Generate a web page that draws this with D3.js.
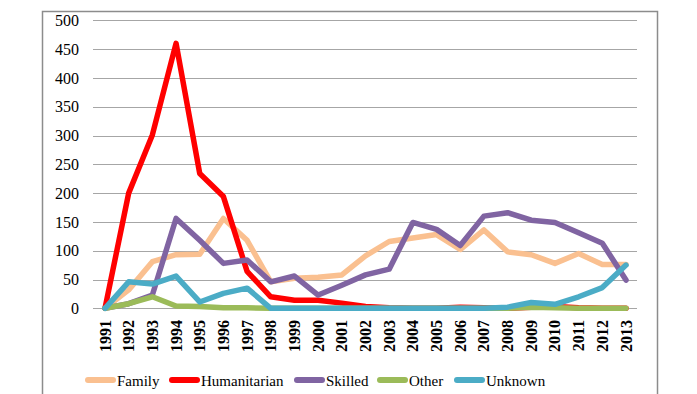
<!DOCTYPE html>
<html>
<head>
<meta charset="utf-8">
<script src="https://cdn.jsdelivr.net/npm/d3@7"></script>
<style>
  body { margin: 0; background: #fff; }
  text { font-family: "Liberation Serif", serif; fill: #000; }
</style>
</head>
<body>
<script>
const width = 697;
const height = 394;

const years = d3.range(1991, 2014).map(String);
const yTicks = [0, 50, 100, 150, 200, 250, 300, 350, 400, 450, 500];

const family       = [0, 32, 81, 93, 94, 156, 118, 46, 52, 54, 58, 91, 116, 122, 128, 102, 136, 98, 93, 78, 95, 76, 76];
const humanitarian = [0, 200, 301, 460, 234, 194, 64, 20, 14, 14, 9, 3, 1, 0, 0, 2, 1, 0, 2, 3, 1, 0, 0];
const skilled      = [0, 8, 23, 156, 118, 78, 84, 46, 56, 23, 40, 58, 68, 149, 137, 109, 160, 166, 153, 149, 131, 113, 49];
const other        = [0, 8, 20, 4, 3, 1, 1, 0, 0, 0, 0, 0, 0, 0, 0, 0, 0, 0, 2, 1, 0, 0, 0];
const unknown      = [0, 46, 42, 56, 11, 26, 35, 0, 0, 0, 0, 0, 0, 0, 0, 0, 0, 2, 10, 7, 20, 36, 75];

const seriesNames = ["Family", "Humanitarian", "Skilled", "Other", "Unknown"];
const seriesValues = [family, humanitarian, skilled, other, unknown];
const colors = ["#FAC090", "#FF0000", "#8064A2", "#9BBB59", "#4BACC6"];

const svg = d3.select("body")
    .append("svg")
    .attr("width", width)
    .attr("height", height);

// outer frame
svg.append("rect")
    .attr("x", 42.5)
    .attr("y", 11.5)
    .attr("width", 615)
    .attr("height", 420)
    .attr("fill", "none")
    .attr("stroke", "#8c8c8c")
    .attr("stroke-width", 1.5);

const xScale = d3.scalePoint()
    .domain(years)
    .range([105, 626]);

const yScale = d3.scaleLinear()
    .domain([0, 500])
    .range([308.3, 20.3]);

// gridlines
svg.append("g")
    .selectAll("line")
    .data(yTicks)
    .enter()
    .append("line")
    .attr("x1", 93)
    .attr("x2", 637)
    .attr("y1", d => Math.round(yScale(d)) + 0.5)
    .attr("y2", d => Math.round(yScale(d)) + 0.5)
    .attr("stroke", "#a6a6a6")
    .attr("stroke-width", 1);

// y labels
svg.append("g")
    .selectAll("text")
    .data(yTicks)
    .enter()
    .append("text")
    .attr("x", 79)
    .attr("y", d => yScale(d))
    .attr("dy", "0.35em")
    .attr("text-anchor", "end")
    .style("font-size", "16px")
    .text(d => d);

// x labels, rotated
svg.append("g")
    .selectAll("text")
    .data(years)
    .enter()
    .append("text")
    .attr("transform", d => "translate(" + (xScale(d) + 5.5) + ", 320) rotate(-90)")
    .attr("text-anchor", "end")
    .style("font-size", "16px")
    .style("font-weight", "bold")
    .text(d => d);

const line = d3.line()
    .x((d, i) => xScale(years[i]))
    .y(d => yScale(d));

svg.append("g")
    .selectAll("path")
    .data(seriesValues)
    .enter()
    .append("path")
    .attr("d", d => line(d))
    .attr("fill", "none")
    .attr("stroke", (d, i) => colors[i])
    .attr("stroke-width", 5.5)
    .attr("stroke-linejoin", "round")
    .attr("stroke-linecap", "round");

// legend
const legendX = [86, 170, 295, 378, 455];
const legend = svg.append("g")
    .selectAll("g")
    .data(seriesNames)
    .enter()
    .append("g")
    .attr("transform", (d, i) => "translate(" + legendX[i] + ", 380)");

legend.append("line")
    .attr("x1", 2)
    .attr("x2", 27)
    .attr("y1", 0)
    .attr("y2", 0)
    .attr("stroke", (d, i) => colors[i])
    .attr("stroke-width", 6)
    .attr("stroke-linecap", "round");

legend.append("text")
    .attr("x", 31)
    .attr("y", 5.5)
    .style("font-size", "15px")
    .text(d => d);
</script>
</body>
</html>
